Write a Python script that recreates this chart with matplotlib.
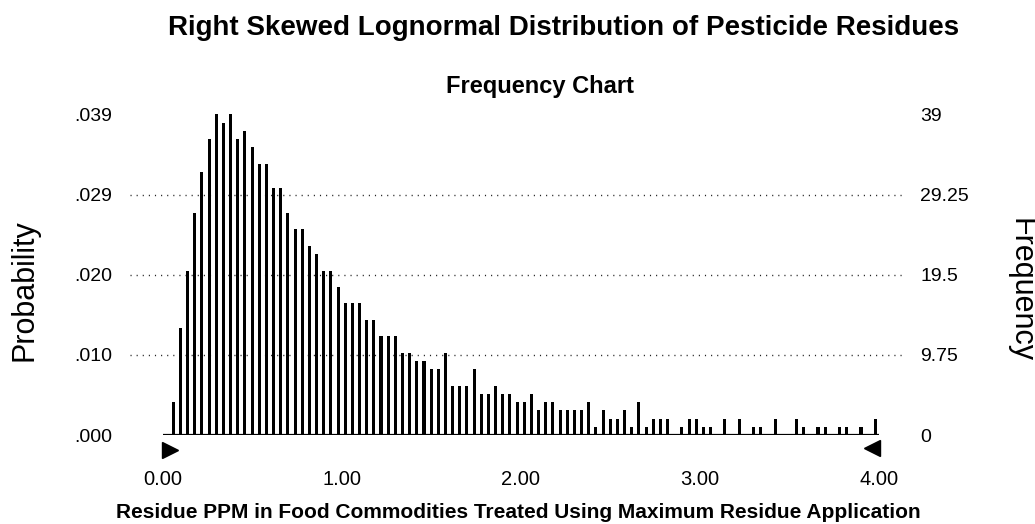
import numpy as np
import matplotlib
matplotlib.use("Agg")
import matplotlib.pyplot as plt
import matplotlib.transforms as mtransforms

plt.rcParams['font.family'] = ['Liberation Sans', 'DejaVu Sans']

# ---- data ----
bin_width = 0.04          # PPM per bin (100 bins from 0 to 4)
counts = [0,
          4, 13, 20, 27, 32, 36, 39, 38, 39, 36,
          37, 35, 33, 33, 30, 30, 27, 25, 25, 23,
          22, 20, 20, 18, 16, 16, 16, 14, 14, 12,
          12, 12, 10, 10, 9, 9, 8, 8, 10, 6,
          6, 6, 8, 5, 5, 6, 5, 5, 4, 4,
          5, 3, 4, 4, 3, 3, 3, 3, 4, 1,
          3, 2, 2, 3, 1, 4, 1, 2,
          2, 2, 0, 1, 2, 2, 1, 1, 0, 2,
          0, 2, 0, 1, 1, 0, 2, 0, 0, 2,
          1, 0, 1, 1, 0, 1, 1, 0, 1, 0,
          2]
freq_ticks = [0, 9.75, 19.5, 29.25, 39]
freq_labels = ['0', '9.75', '19.5', '29.25', '39']
prob_labels = ['.000', '.010', '.020', '.029', '.039']
x_ticks = [0, 1, 2, 3, 4]
x_labels = ['0.00', '1.00', '2.00', '3.00', '4.00']

centers = (np.arange(len(counts)) + 0.5) * bin_width

W, H = 1035, 524
fig = plt.figure(figsize=(W / 100, H / 100), dpi=100)
ax = fig.add_axes([130 / W, (H - 435) / H, 775 / W, 335 / H])
ax.set_xlim(-0.1815, 4.1457)
ax.set_ylim(0, 335 / 8.22)

for y in freq_ticks[1:4]:
    ax.axhline(y, color='#222222', lw=1, dashes=(0.8, 3.6), zorder=0)

ax.bar(centers, counts, width=0.017, color='black', zorder=2)
ax.hlines(0, x_ticks[0], x_ticks[-1], color='black', lw=1.6, zorder=3)

for s in ax.spines.values():
    s.set_visible(False)

ax.set_yticks(freq_ticks, prob_labels)
ax.tick_params(axis='y', length=0, pad=13, labelsize=14)
ax.set_xticks(x_ticks, x_labels)
ax.tick_params(axis='x', length=0, pad=25, labelsize=14.5)

ax2 = ax.twinx()
ax2.set_ylim(ax.get_ylim())
ax2.set_yticks(freq_ticks, freq_labels)
ax2.tick_params(axis='y', length=0, pad=11, labelsize=14)
for s in ax2.spines.values():
    s.set_visible(False)

# certainty grabbers at the ends of the range
off_l = mtransforms.ScaledTranslation(7 / 100, -15 / 100, fig.dpi_scale_trans)
off_r = mtransforms.ScaledTranslation(-7 / 100, -13 / 100, fig.dpi_scale_trans)
ax.plot([x_ticks[0]], [0], marker='>', ms=12, color='black', linestyle='none',
        transform=ax.transData + off_l, clip_on=False)
ax.plot([x_ticks[-1]], [0], marker='<', ms=12, color='black', linestyle='none',
        transform=ax.transData + off_r, clip_on=False)

fig.text(564 / W, (H - 35) / H, 'Right Skewed Lognormal Distribution of Pesticide Residues',
         ha='center', va='baseline', fontsize=20, fontweight='bold')
fig.text(540 / W, (H - 93) / H, 'Frequency Chart',
         ha='center', va='baseline', fontsize=17, fontweight='bold')
fig.text(518 / W, (H - 518) / H,
         'Residue PPM in Food Commodities Treated Using Maximum Residue Application',
         ha='center', va='baseline', fontsize=15, fontweight='bold')
fig.text(24 / W, (H - 290) / H, 'Probability', rotation=90,
         ha='center', va='center', fontsize=22)
fig.text(1020 / W, (H - 290) / H, 'Frequency', rotation=270,
         ha='center', va='center', fontsize=22)

fig.savefig('out.png', dpi=100)
